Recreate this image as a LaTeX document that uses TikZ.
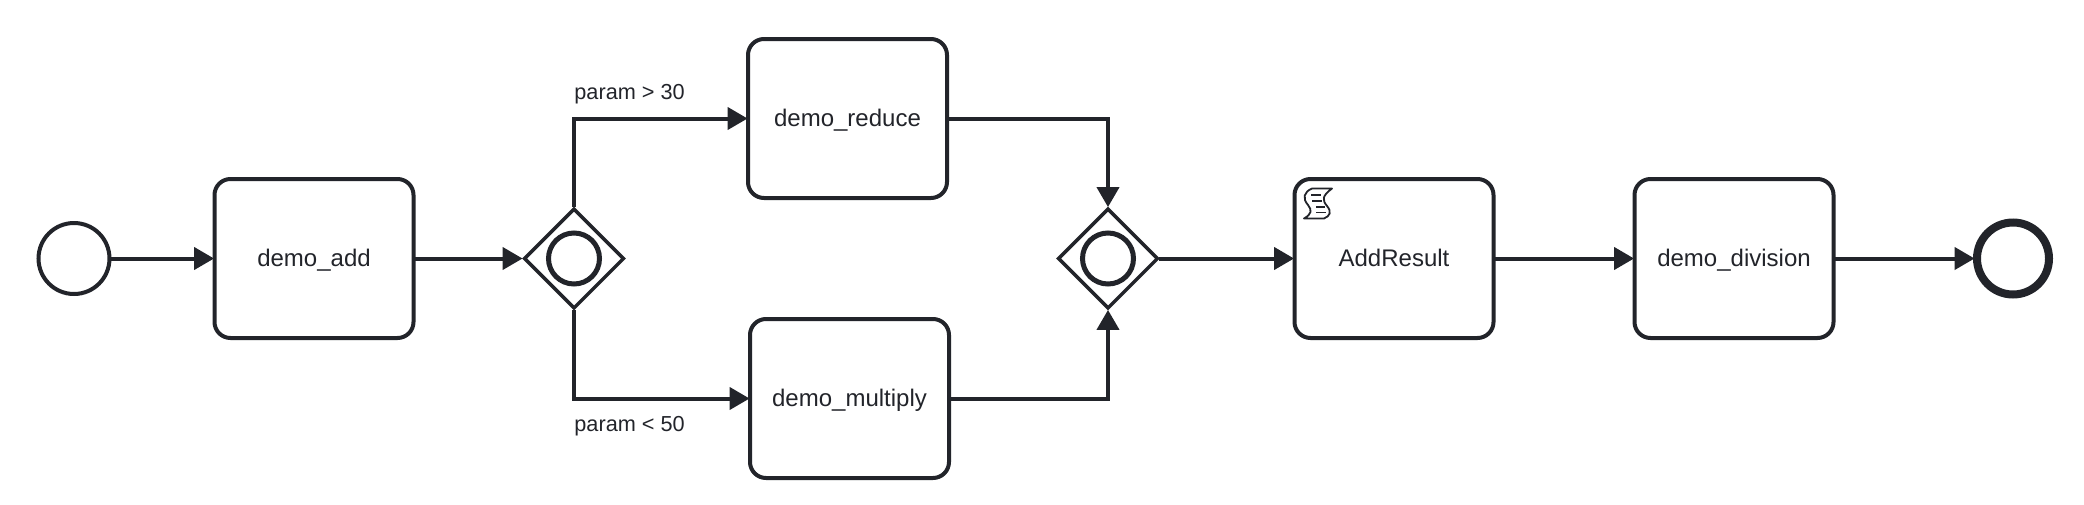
\documentclass[tikz,border=0pt]{standalone}
\usepackage{fontspec}
\setmainfont{Liberation Sans}
\usetikzlibrary{arrows.meta,shapes.geometric}
\definecolor{ink}{HTML}{22242A}
\tikzset{
  x=0.5pt,y=-0.5pt,
  every node/.style={text=ink,font=\fontsize{12pt}{14pt}\selectfont},
  taskbox/.style={draw=ink,line width=2pt,rounded corners=8pt,minimum width=99.5pt,minimum height=79.5pt,inner sep=0pt,fill=white,text depth=2pt,text height=9.5pt},
  gatebox/.style={draw=ink,line width=1.75pt,diamond,aspect=1,minimum width=50.5pt,minimum height=50.5pt,inner sep=0pt,outer sep=1.25pt,fill=white},
  innerring/.style={draw=ink,line width=2.5pt,circle,minimum size=25.5pt,inner sep=0pt},
  startev/.style={draw=ink,line width=2pt,circle,minimum size=35.5pt,inner sep=0pt,fill=white},
  endev/.style={draw=ink,line width=4pt,circle,minimum size=36pt,inner sep=0pt,fill=white},
  flow/.style={draw=ink,line width=2pt,-{Triangle[length=10pt,width=11pt,sep=0pt]},line join=miter,shorten >=-0.8pt,shorten <=-0.8pt},
  labeltext/.style={font=\fontsize{10.85pt}{13pt}\selectfont,anchor=base west,inner sep=0pt},
}
\begin{document}
\begin{tikzpicture}
\useasboundingbox (0,0) rectangle (2084,504);
\node[startev] (s) at (74,258.5) {};
\node[taskbox] (add) at (314,258.5) {demo\_add};
\node[gatebox] (g1) at (574,258.5) {};
\node[innerring] (g1r) at (574,258.5) {};
\node[taskbox] (red) at (847.5,118.5) {demo\_reduce};
\node[taskbox] (mul) at (849.5,398.5) {demo\_multiply};
\node[gatebox] (g2) at (1108,258.5) {};
\node[innerring] (g2r) at (1108,258.5) {};
\node[taskbox] (res) at (1394,258.5) {AddResult};
\node[taskbox] (div) at (1734,258.5) {demo\_division};
\node[endev] (e) at (2013,258.5) {};
\node[labeltext] (l1) at (574,99) {param > 30};
\node[labeltext] (l2) at (574,431) {param < 50};
\draw[flow] (s) -- (add);
\draw[flow] (add) -- (g1);
\draw[flow] (g1.north) |- (red.west);
\draw[flow] (g1.south) |- (mul.west);
\draw[flow] (red.east) -| (g2.north);
\draw[flow] (mul.east) -| (g2.south);
\draw[flow] (g2) -- (res);
\draw[flow] (res) -- (div);
\draw[flow] (div) -- (e);
% script marker
\draw[ink,line width=0.9pt,line join=round] (1312,188.5) -- (1332,188.5)
  .. controls (1322,196) and (1322,200) .. (1327,206)
  .. controls (1332,212) and (1330,216) .. (1324,218.5)
  -- (1304,218.5)
  .. controls (1312,214) and (1312,210) .. (1308,205)
  .. controls (1302,198) and (1304,192) .. (1312,188.5) -- cycle;
\draw[ink,line width=0.8pt] (1311,195)--(1321,195) (1312,201)--(1322,201) (1316,207)--(1325,207) (1316,212.5)--(1326,212.5);
\end{tikzpicture}
\end{document}
